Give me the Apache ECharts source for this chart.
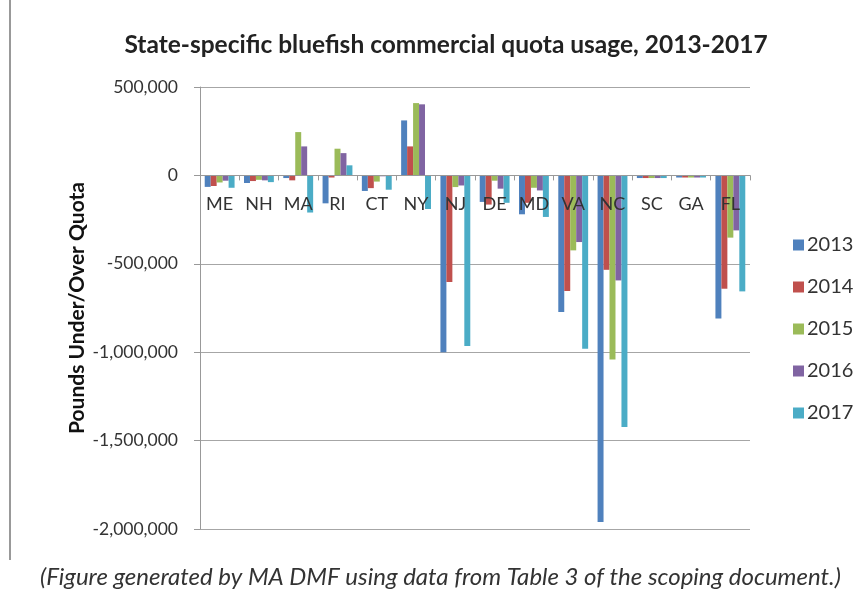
<!DOCTYPE html>
<html>
<head>
<meta charset="utf-8">
<script src="https://cdn.jsdelivr.net/npm/echarts@6/dist/echarts.min.js"></script>
<style>html,body{margin:0;padding:0;background:#fff;}#c{width:865px;height:594px;}</style>
</head>
<body>
<div id="c"></div>
<script>
const states = ['ME','NH','MA','RI','CT','NY','NJ','DE','MD','VA','NC','SC','GA','FL'];
const years = ['2013','2014','2015','2016','2017'];
const v2013 = [-65000,-43000,-15000,-158000,-88000,311000,-1000000,-150000,-220000,-773000,-1961000,-15000,-12000,-810000];
const v2014 = [-60000,-32000,-28000,-12000,-72000,164000,-603000,-165000,-155000,-654000,-534000,-15000,-12000,-641000];
const v2015 = [-40000,-25000,245000,151000,-35000,409000,-66000,-30000,-70000,-424000,-1041000,-15000,-12000,-352000];
const v2016 = [-30000,-28000,164000,126000,-5000,402000,-57000,-75000,-85000,-377000,-594000,-15000,-12000,-311000];
const v2017 = [-70000,-38000,-210000,57000,-81000,-190000,-965000,-155000,-235000,-980000,-1423000,-15000,-12000,-656000];
const yTicks = [-2000000,-1500000,-1000000,-500000,0,500000];
const colors = ['#4F81BD','#C0504D','#9BBB59','#8064A2','#4BACC6'];
const seriesVals = [v2013,v2014,v2015,v2016,v2017];

const chart = echarts.init(document.getElementById('c'));
const font = 'Lato, "Open Sans", sans-serif';
const gridTop = 87, gridBottom = 65, H = 594;
const yMin = -2000000, yMax = 500000;
const plotH = H - gridTop - gridBottom;
const zeroFromBottom = plotH * (0 - yMin) / (yMax - yMin);
chart.setOption({
  animation: false,
  color: colors,
  title: {
    text: 'State-specific bluefish commercial quota usage, 2013-2017',
    left: 441, top: 28, textAlign: 'center',
    textStyle: {fontFamily: font, fontWeight: 'bold', fontSize: 24.5, color: '#222'}
  },
  legend: {
    orient: 'vertical', left: 788, top: 230, itemGap: 22,
    itemWidth: 11, itemHeight: 11, icon: 'rect',
    textStyle: {fontFamily: font, fontSize: 20, color: '#333', padding: [0,0,0,-2]},
    data: years
  },
  grid: {left: 200, right: 115, top: gridTop, bottom: gridBottom},
  xAxis: {
    type: 'category', data: states,
    offset: -zeroFromBottom,
    axisLine: {onZero: false, lineStyle: {color: '#999', width: 1}},
    axisTick: {show: true, length: 5, lineStyle: {color: '#999'}},
    axisLabel: {fontFamily: font, fontSize: 18, color: '#333', margin: 20, interval: 0},
    z: 10
  },
  yAxis: {
    type: 'value', min: yMin, max: yMax, interval: 500000,
    name: 'Pounds Under/Over Quota', nameLocation: 'middle', nameGap: 112,
    nameMoveOverlap: false,
    nameTextStyle: {fontFamily: font, fontWeight: 'bold', fontSize: 21, color: '#111'},
    axisLine: {show: true, lineStyle: {color: '#999'}},
    axisTick: {show: true, length: 6, lineStyle: {color: '#999'}},
    splitLine: {lineStyle: {color: '#a6a6a6', width: 1}},
    axisLabel: {fontFamily: font, fontSize: 17.5, color: '#333', margin: 22,
      formatter: function(v){ return yTicks.indexOf(v) >= 0 ? v.toLocaleString('en-US') : ''; }}
  },
  series: seriesVals.map((d, i) => ({
    name: years[i], type: 'bar', data: d,
    barGap: '0%', barCategoryGap: '24%'
  })),
  graphic: [
    {type: 'line', shape: {x1: 10, y1: 0, x2: 10, y2: 560}, style: {stroke: '#999', lineWidth: 2}},
    {type: 'text', left: 40, top: 565, style: {
      text: '(Figure generated by MA DMF using data from Table 3 of the scoping document.)',
      fontFamily: font, fontStyle: 'italic', fontSize: 24, fill: '#333'}}
  ]
});
</script>
</body>
</html>
